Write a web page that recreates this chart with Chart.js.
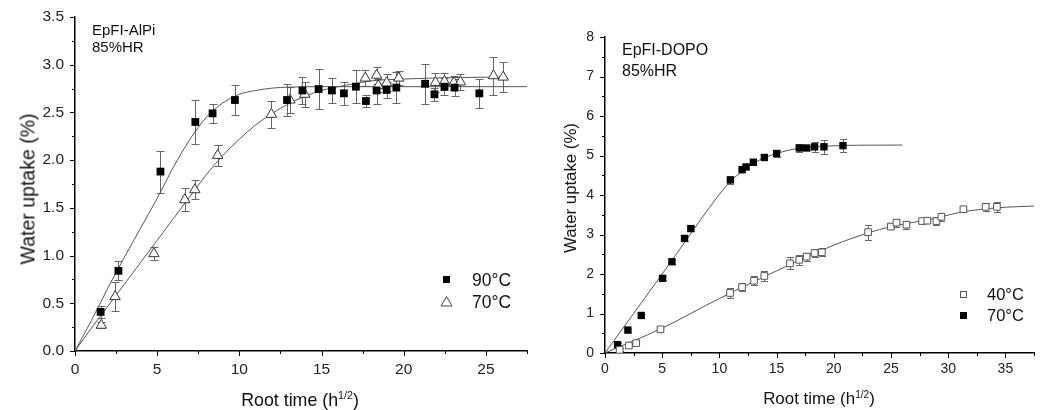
<!DOCTYPE html>
<html>
<head>
<meta charset="utf-8">
<script src="https://cdn.jsdelivr.net/npm/chart.js@4.4.1/dist/chart.umd.min.js"></script>
<style>
body { margin: 0; background: #fff; font-family: "Liberation Sans", Arial, sans-serif; color: #111; }
#wrap { position: relative; width: 1042px; height: 410px; overflow: hidden; }
canvas { position: absolute; top: 0; }
.txt { position: absolute; white-space: nowrap; }
.ytitle { position: absolute; white-space: nowrap; transform: translate(-50%, -50%) rotate(-90deg); }
.xtitle { position: absolute; white-space: nowrap; transform: translate(-50%, -50%); }
sup { font-size: 0.6em; vertical-align: 0.6em; line-height: 0; }
.mk { position: absolute; }
</style>
</head>
<body>
<div id="wrap">
  <canvas id="alpi" width="540" height="410" style="left:0"></canvas>
  <canvas id="dopo" width="502" height="410" style="left:540px"></canvas>

  <div class="txt" style="left:92px;top:22px;font-size:15px;line-height:16.5px">EpFI-AlPi<br>85%HR</div>
  <div class="ytitle" style="left:28px;top:189px;font-size:19.5px">Water uptake (%)</div>
  <div class="xtitle" style="left:300px;top:400px;font-size:17.8px">Root time (h<sup>1/2</sup>)</div>

  <div class="mk" style="left:443px;top:276px;width:7px;height:7px;background:#000"></div>
  <svg class="mk" style="left:440px;top:296px" width="13" height="11"><polygon points="6.5,0.5 12,10 1,10" fill="#fff" stroke="#444" stroke-width="1"/></svg>
  <div class="txt" style="left:472px;top:269px;font-size:17.5px;line-height:22px">90°C<br>70°C</div>

  <div class="txt" style="left:622px;top:39px;font-size:16px;line-height:21px">EpFI-DOPO<br>85%HR</div>
  <div class="ytitle" style="left:571px;top:188px;font-size:16.8px">Water uptake (%)</div>
  <div class="xtitle" style="left:819px;top:399px;font-size:16.9px">Root time (h<sup>1/2</sup>)</div>

  <div class="mk" style="left:960px;top:291px;width:5px;height:5px;border:1px solid #555;background:#fff"></div>
  <div class="mk" style="left:960px;top:312px;width:7px;height:7px;background:#000"></div>
  <div class="txt" style="left:987px;top:284px;font-size:16.5px;line-height:21px">40°C<br>70°C</div>
</div>

<script>
// EpFI-AlPi, 90°C
const alpiTime90 = [1.56, 2.64, 5.2, 7.32, 8.37, 9.73, 12.9, 13.84, 14.82, 15.63, 16.36, 17.09, 17.7, 18.35, 18.96, 19.55, 21.3, 21.87, 22.48, 23.09, 24.6];
const alpiUptake90 = [0.41, 0.84, 1.88, 2.40, 2.49, 2.63, 2.63, 2.73, 2.745, 2.73, 2.70, 2.77, 2.62, 2.73, 2.735, 2.76, 2.80, 2.69, 2.77, 2.76, 2.70];
const alpiErr90 = [0.06, 0.1, 0.22, 0.23, 0.1, 0.16, 0.17, 0.14, 0.21, 0.13, 0.12, 0.17, 0.06, 0.14, 0.08, 0.16, 0.21, 0.07, 0.09, 0.09, 0.15];

// EpFI-AlPi, 70°C
const alpiTime70 = [1.6, 2.44, 4.8, 6.68, 7.29, 8.68, 11.95, 13.08, 13.98, 17.66, 18.35, 18.45, 18.96, 19.7, 21.93, 22.48, 23.05, 23.45, 25.46, 26.05];
const alpiUptake70 = [0.27, 0.57, 1.02, 1.585, 1.69, 2.05, 2.48, 2.63, 2.69, 2.86, 2.89, 2.78, 2.81, 2.86, 2.815, 2.825, 2.81, 2.82, 2.885, 2.87];
const alpiErr70 = [0.03, 0.15, 0.07, 0.12, 0.1, 0.11, 0.14, 0.14, 0.13, 0.08, 0.09, 0.07, 0.09, 0.07, 0.1, 0.09, 0.07, 0.08, 0.2, 0.16];

// fitted curves
const alpiFitTime90 = [0, 1, 2, 3, 4, 5, 6, 7, 8, 9, 10, 11, 12, 13, 15, 27.5];
const alpiFitUptake90 = [0, 0.32, 0.66, 0.98, 1.29, 1.6, 1.93, 2.22, 2.45, 2.6, 2.69, 2.73, 2.755, 2.765, 2.77, 2.77];
const alpiFitTime70 = [0, 1, 2, 3, 4, 5, 6, 7, 8, 9, 10, 11, 12, 13, 14, 15, 16, 17, 18, 20, 23, 26.3];
const alpiFitUptake70 = [0, 0.24, 0.47, 0.7, 0.93, 1.16, 1.39, 1.62, 1.85, 2.05, 2.22, 2.37, 2.49, 2.59, 2.67, 2.73, 2.77, 2.8, 2.83, 2.85, 2.865, 2.87];

// EpFI-DOPO, 40°C
const dopoTime40 = [1.28, 2.09, 2.73, 4.85, 10.93, 11.98, 13.03, 13.93, 16.17, 16.98, 17.63, 18.32, 18.96, 23.0, 24.98, 25.48, 26.35, 27.72, 28.18, 28.97, 29.4, 31.33, 33.27, 34.26];
const dopoUptake40 = [0.08, 0.19, 0.25, 0.6, 1.52, 1.67, 1.83, 1.95, 2.27, 2.36, 2.44, 2.53, 2.55, 3.06, 3.2, 3.3, 3.25, 3.34, 3.35, 3.34, 3.45, 3.64, 3.7, 3.7];
const dopoErr40 = [0.04, 0.05, 0.04, 0.05, 0.12, 0.1, 0.12, 0.12, 0.15, 0.12, 0.1, 0.1, 0.1, 0.19, 0.05, 0.1, 0.1, 0.05, 0.05, 0.1, 0.1, 0.06, 0.1, 0.12];

// EpFI-DOPO, 70°C
const dopoTime70 = [1.1, 2.0, 3.17, 5.03, 5.85, 6.95, 7.5, 10.96, 11.98, 12.33, 12.97, 13.93, 15.0, 16.98, 17.63, 18.32, 19.14, 20.8];
const dopoUptake70 = [0.21, 0.58, 0.95, 1.89, 2.31, 2.9, 3.15, 4.38, 4.64, 4.71, 4.83, 4.95, 5.05, 5.19, 5.19, 5.22, 5.22, 5.25];
const dopoErr70 = [0.05, 0.04, 0.04, 0.05, 0.05, 0.07, 0.06, 0.1, 0.06, 0.06, 0.08, 0.06, 0.08, 0.1, 0.06, 0.13, 0.18, 0.17];

const dopoFitTime40 = [0, 5, 10, 15, 20, 23, 25, 27, 29, 31, 33, 35, 37.5];
const dopoFitUptake40 = [0, 0.63, 1.38, 2.08, 2.73, 3.04, 3.2, 3.31, 3.42, 3.56, 3.64, 3.69, 3.72];
const dopoFitTime70 = [0, 5, 10.5, 11, 12, 13, 14, 15, 16, 17, 18, 20, 22, 26];
const dopoFitUptake70 = [0, 2.0, 4.2, 4.36, 4.6, 4.8, 4.95, 5.05, 5.13, 5.18, 5.21, 5.245, 5.26, 5.265];

function toPoints(xs, ys) {
    return xs.map((x, i) => ({ x: x, y: ys[i] }));
}

const errorBars = {
    id: 'errorBars',
    beforeDatasetsDraw(chart) {
        const { ctx, scales: { x, y } } = chart;
        chart.data.datasets.forEach(ds => {
            if (!ds.errors) return;
            ctx.save();
            ctx.strokeStyle = ds.errorColor;
            ctx.lineWidth = 1;
            ctx.beginPath();
            ds.data.forEach((p, i) => {
                let px = Math.round(x.getPixelForValue(p.x)) + 0.5;
                let top = Math.round(y.getPixelForValue(p.y + ds.errors[i])) + 0.5;
                let bottom = Math.round(y.getPixelForValue(p.y - ds.errors[i])) + 0.5;
                ctx.moveTo(px, top);
                ctx.lineTo(px, bottom);
                ctx.moveTo(px - ds.capHalf, top);
                ctx.lineTo(px + ds.capHalf, top);
                ctx.moveTo(px - ds.capHalf, bottom);
                ctx.lineTo(px + ds.capHalf, bottom);
            });
            ctx.stroke();
            ctx.restore();
        });
    }
};

// major + minor tick marks drawn outside the axes
const axisTicks = {
    id: 'axisTicks',
    afterDraw(chart, args, o) {
        const { ctx, chartArea: a, scales: { x, y } } = chart;
        ctx.save();
        ctx.strokeStyle = '#000';
        ctx.lineWidth = 1;
        ctx.beginPath();
        let n = Math.round((x.max - x.min) / o.xMinor);
        for (let i = 0; i <= n; i++) {
            let px = Math.round(x.getPixelForValue(x.min + i * o.xMinor)) + 0.5;
            let len = i % 2 === 0 ? 5 : 3;
            ctx.moveTo(px, a.bottom);
            ctx.lineTo(px, a.bottom + len);
        }
        n = Math.round((y.max - y.min) / o.yMinor);
        for (let i = 0; i <= n; i++) {
            let py = Math.round(y.getPixelForValue(y.min + i * o.yMinor)) + 0.5;
            let len = i % 2 === 0 ? 5 : 3;
            ctx.moveTo(a.left, py);
            ctx.lineTo(a.left - len, py);
        }
        ctx.stroke();
        ctx.restore();
    }
};

function buildChart(canvasId, cfg) {
    return new Chart(document.getElementById(canvasId), {
        type: 'scatter',
        data: { datasets: cfg.datasets },
        options: {
            responsive: false,
            animation: false,
            events: [],
            layout: { padding: cfg.padding },
            plugins: {
                legend: { display: false },
                tooltip: { enabled: false },
                axisTicks: { xMinor: 2.5, yMinor: cfg.yMinor }
            },
            scales: {
                x: {
                    min: 0,
                    max: cfg.xMax,
                    afterFit: s => { s.height = cfg.xHeight; },
                    ticks: {
                        stepSize: 5, includeBounds: false, autoSkip: false, maxRotation: 0, padding: cfg.xPad,
                        color: '#222', font: { size: cfg.tickSize },
                        callback: v => (v % 5 === 0 ? v : '')
                    },
                    grid: { drawOnChartArea: false, tickLength: 5, color: 'rgba(0,0,0,0)' },
                    border: { color: '#000', width: 1.5 }
                },
                y: {
                    min: 0,
                    max: cfg.yMax,
                    afterFit: s => { s.width = cfg.yWidth; },
                    ticks: {
                        stepSize: cfg.yStep, autoSkip: false, padding: 6,
                        color: '#222', font: { size: cfg.tickSize },
                        callback: cfg.yLabel
                    },
                    grid: { drawOnChartArea: false, tickLength: 5, color: 'rgba(0,0,0,0)' },
                    border: { color: '#000', width: 1.5 }
                }
            }
        },
        plugins: [errorBars, axisTicks]
    });
}

function fitLine(xs, ys) {
    return {
        data: toPoints(xs, ys), showLine: true, pointRadius: 0,
        borderColor: '#555', borderWidth: 1, cubicInterpolationMode: 'monotone', order: 2
    };
}

Chart.defaults.font.family = '"Liberation Sans", Arial, sans-serif';

buildChart('alpi', {
    padding: { top: 17, right: 13, left: 0, bottom: 0 },
    xMax: 27.5, xHeight: 59, xPad: 4,
    yMax: 3.5, yStep: 0.5, yMinor: 0.25, yWidth: 75,
    tickSize: 15.5,
    yLabel: v => v.toFixed(1),
    datasets: [
        fitLine(alpiFitTime90, alpiFitUptake90),
        fitLine(alpiFitTime70, alpiFitUptake70),
        {
            label: '90°C', data: toPoints(alpiTime90, alpiUptake90), errors: alpiErr90,
            errorColor: '#666', capHalf: 4, pointStyle: 'rect', pointRadius: 5.5,
            pointBackgroundColor: '#000', pointBorderColor: '#000', pointBorderWidth: 0, order: 0
        },
        {
            label: '70°C', data: toPoints(alpiTime70, alpiUptake70), errors: alpiErr70,
            errorColor: '#666', capHalf: 4, pointStyle: 'triangle', pointRadius: 6,
            pointBackgroundColor: '#fff', pointBorderColor: '#333', pointBorderWidth: 1, order: 0
        }
    ]
});

buildChart('dopo', {
    padding: { top: 37, right: 8, left: 0, bottom: 0 },
    xMax: 37.5, xHeight: 57, xPad: 3,
    yMax: 8, yStep: 1, yMinor: 0.5, yWidth: 65,
    tickSize: 14,
    yLabel: v => v,
    datasets: [
        fitLine(dopoFitTime40, dopoFitUptake40),
        fitLine(dopoFitTime70, dopoFitUptake70),
        {
            label: '40°C', data: toPoints(dopoTime40, dopoUptake40), errors: dopoErr40,
            errorColor: '#666', capHalf: 3.5, pointStyle: 'rect', pointRadius: 4.7,
            pointBackgroundColor: '#fff', pointBorderColor: '#555', pointBorderWidth: 1, order: 0
        },
        {
            label: '70°C', data: toPoints(dopoTime70, dopoUptake70), errors: dopoErr70,
            errorColor: '#666', capHalf: 3.5, pointStyle: 'rect', pointRadius: 5.2,
            pointBackgroundColor: '#000', pointBorderColor: '#000', pointBorderWidth: 0, order: 0
        }
    ]
});
</script>
</body>
</html>
